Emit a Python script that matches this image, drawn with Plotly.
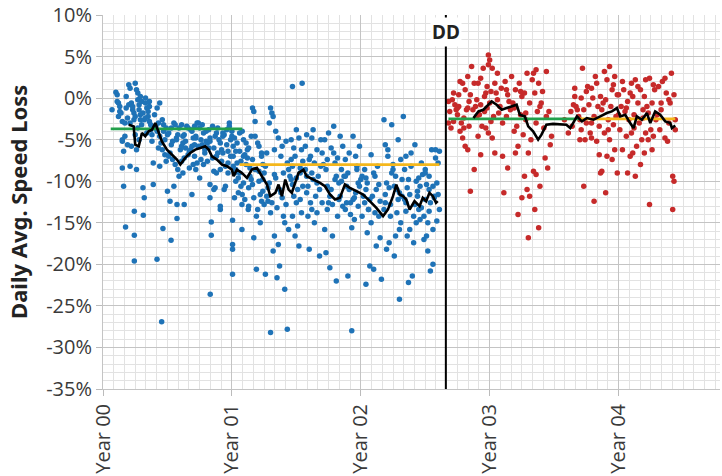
import plotly.graph_objects as go

# ---------------- data (x in years since Year 00, y in % speed loss) ----------------
blue_points = [
    # 0.05 - 0.20
    (0.07,-1.4),(0.10,0.7),(0.11,0.4),(0.11,-0.4),(0.12,-0.6),(0.13,-1.0),(0.13,-1.6),(0.14,-1.8),(0.12,-2.2),(0.15,-2.8),
    (0.15,-5.0),(0.15,-5.2),(0.16,-6.4),(0.15,-8.4),(0.16,-10.6),(0.175,-15.5),(0.17,-3.0),(0.17,-4.6),(0.18,-1.2),(0.19,-2.4),
    (0.19,-5.6),(0.20,-0.8),(0.18,0.2),(0.21,-3.0),
    # 0.20 - 0.30
    (0.20,1.6),(0.21,1.2),(0.22,-0.6),(0.23,-1.4),(0.24,-1.8),(0.24,-2.6),(0.25,-4.4),(0.22,-5.8),(0.21,-8.2),(0.26,-8.6),
    (0.243,-13.6),(0.243,-16.5),(0.243,-19.6),(0.25,1.8),(0.26,1.0),(0.27,0.6),(0.27,-0.2),(0.28,-0.8),(0.28,-1.4),(0.29,-2.0),
    (0.29,-2.6),(0.30,-3.2),(0.30,-0.4),(0.27,-3.6),(0.25,-2.2),(0.23,-1.0),(0.26,-6.2),(0.28,-5.0),(0.29,0.2),
    # 0.30 - 0.40
    (0.31,-10.8),(0.313,-14.1),(0.32,-12.0),(0.33,0.0),(0.33,-0.6),(0.34,-1.2),(0.35,-1.6),(0.35,-2.2),(0.36,-2.8),(0.37,-3.2),
    (0.37,-3.8),(0.38,-4.4),(0.38,-5.2),(0.39,-7.8),(0.39,-10.4),(0.40,-3.6),(0.32,-2.6),(0.34,-4.2),(0.36,-1.0),(0.36,-0.4),
    (0.31,-1.8),(0.33,-2.4),(0.40,-2.0),
    # 0.40 - 0.50
    (0.41,-3.4),(0.419,-19.4),(0.42,-4.0),(0.43,-3.0),(0.44,-4.6),(0.45,-5.4),(0.455,-26.9),(0.465,-15.7),(0.46,-6.2),(0.47,-3.2),
    (0.47,-4.0),(0.48,-5.0),(0.48,-6.8),(0.49,-3.6),(0.49,-7.6),(0.50,-4.4),(0.50,-11.2),(0.44,-8.2),(0.46,-2.6),(0.43,-6.0),
    (0.42,-1.2),(0.44,-0.6),
    # 0.50 - 0.60
    (0.55,-3.0),(0.59,-3.6),(0.52,-12.4),(0.528,-17.1),(0.51,-4.2),(0.57,-4.8),(0.53,-5.6),(0.60,-6.2),(0.56,-3.2),(0.51,-7.0),
    (0.58,-4.4),(0.54,-5.2),(0.574,-12.8),(0.574,-14.5),(0.52,-6.6),(0.56,-8.0),(0.53,-3.6),(0.59,-9.4),(0.57,-5.0),(0.54,-7.4),
    (0.58,-8.6),(0.55,-10.6),
    # 0.60 - 0.70
    (0.65,-3.4),(0.61,-5.8),(0.69,-4.0),(0.63,-7.2),(0.61,-3.2),(0.67,-6.4),(0.62,-4.6),(0.70,-8.0),(0.64,-5.2),(0.68,-3.8),
    (0.66,-6.8),(0.62,-9.0),(0.63,-4.4),(0.69,-5.8),(0.61,-7.6),(0.66,-3.6),(0.70,-4.8),(0.69,-11.6),(0.64,-6.0),(0.67,-8.4),
    (0.63,-12.8),(0.62,-5.4),(0.68,-6.2),
    # 0.70 - 0.80
    (0.74,-3.0),(0.71,-5.6),(0.78,-4.2),(0.73,-7.8),(0.71,-3.4),(0.79,-6.6),(0.76,-5.0),(0.72,-8.6),(0.80,-4.0),(0.75,-9.6),
    (0.77,-3.2),(0.74,-5.8),(0.71,-7.0),(0.72,-4.6),(0.79,-6.2),(0.75,-3.6),(0.78,-8.0),(0.80,-5.2),(0.73,-3.0),(0.76,-7.4),
    (0.72,-4.8),(0.77,-5.6),
    # 0.80 - 0.90
    (0.85,-3.4),(0.82,-6.0),(0.88,-4.2),(0.81,-7.6),(0.832,-23.6),(0.84,-14.9),(0.84,-16.5),(0.90,-5.0),(0.86,-8.8),(0.82,-3.8),
    (0.89,-6.6),(0.83,-10.4),(0.87,-4.6),(0.85,-7.2),(0.81,-5.4),(0.88,-9.0),(0.89,-3.6),(0.86,-6.0),(0.83,-4.8),(0.87,-10.8),
    (0.83,-12.0),(0.86,-11.0),(0.83,-5.2),(0.88,-7.0),
    # 0.90 - 1.00
    (0.91,-13.4),(0.96,-3.8),(0.93,-4.6),(0.99,-7.0),(0.91,-5.4),(0.95,-8.2),(0.98,-3.4),(0.92,-6.2),(0.97,-9.0),(0.94,-4.4),
    (0.92,-7.6),(0.99,-5.0),(0.95,-10.6),(0.97,-6.4),(0.93,-4.2),(0.91,-8.6),(0.96,-5.6),(0.94,-11.0),(0.91,-13.0),(0.98,-3.0),
    (0.93,-6.6),(0.97,-7.8),
    # 1.00 - 1.05
    (1.00,-4.0),(1.00,-4.6),(1.005,-14.7),(1.005,-17.6),(1.005,-18.2),(1.005,-21.2),(1.01,-5.8),(1.01,-7.0),(1.01,-8.2),(1.02,-9.0),
    (1.02,-4.8),(1.02,-12.0),(1.03,-6.4),(1.03,-10.0),(1.04,-7.8),(1.04,-5.4),(1.05,-9.6),(1.05,-11.4),(1.03,-8.6),
    # 1.05 - 1.15
    (1.06,-4.2),(1.12,-7.2),(1.09,-5.0),(1.14,-9.4),(1.078,-15.8),(1.078,-12.8),(1.13,-6.0),(1.07,-10.6),(1.11,-8.0),(1.15,-4.6),
    (1.08,-11.6),(1.10,-6.8),(1.06,-9.0),(1.13,-13.0),(1.11,-5.4),(1.07,-7.6),(1.127,-13.4),(1.09,-10.2),(1.14,-8.4),(1.10,-12.2),
    (1.12,-6.2),(1.08,-4.0),(1.15,-9.8),(1.09,-7.0),(1.13,-10.8),(1.06,-6.4),
    # 1.15 - 1.25
    (1.16,-1.2),(1.17,-1.6),(1.18,-2.8),(1.21,-5.8),(1.24,-8.0),(1.16,-10.4),(1.23,-6.6),(1.17,-12.0),(1.25,-9.0),(1.19,-14.2),
    (1.16,-7.4),(1.24,-11.2),(1.20,-5.4),(1.22,-15.0),(1.18,-8.6),(1.25,-12.8),(1.21,-10.0),(1.17,-16.8),(1.23,-7.0),(1.20,-13.4),
    (1.19,-20.6),(1.22,-11.6),(1.18,-4.6),(1.24,-9.8),(1.21,-8.8),(1.23,-12.4),
    # 1.25 - 1.45
    (1.26,-21.2),(1.30,-28.2),(1.34,-9.6),(1.28,-12.4),(1.30,-1.2),(1.38,-7.0),(1.31,-1.8),(1.27,-11.8),(1.32,-2.2),(1.40,-14.2),
    (1.29,-3.0),(1.44,-8.6),(1.36,-4.8),(1.33,-16.6),(1.42,-5.2),(1.29,-10.2),(1.39,-5.8),(1.35,-13.2),(1.27,-6.6),(1.37,-20.2),
    (1.43,-7.8),(1.31,-12.6),(1.45,-9.4),(1.36,-17.6),(1.28,-10.8),(1.41,-15.0),(1.33,-6.2),(1.41,-23.0),(1.26,-8.2),(1.32,-18.4),
    (1.38,-11.4),(1.43,-27.8),(1.35,-21.6),(1.40,-9.0),(1.30,-13.8),(1.44,-15.8),(1.34,-4.0),(1.39,-12.0),(1.33,-9.2),(1.37,-11.0),
    (1.42,-12.8),
    # 1.45 - 1.56
    (1.47,1.4),(1.545,1.8),(1.52,-4.8),(1.46,-5.0),(1.54,-6.2),(1.49,-7.0),(1.47,-8.2),(1.53,-9.0),(1.46,-9.8),(1.55,-10.6),
    (1.48,-11.8),(1.50,-12.6),(1.54,-13.8),(1.47,-14.2),(1.51,-15.4),(1.49,-16.6),(1.52,-17.8),(1.50,-3.8),(1.55,-7.6),(1.51,-11.0),
    (1.48,-6.0),(1.53,-12.2),(1.46,-7.4),(1.50,-9.6),(1.47,-10.4),(1.53,-8.4),
    # 1.56 - 1.71
    (1.63,-3.8),(1.58,-9.4),(1.69,-5.0),(1.61,-12.6),(1.57,-5.8),(1.66,-10.2),(1.70,-6.6),(1.59,-14.2),(1.64,-7.8),(1.68,-11.0),
    (1.57,-8.6),(1.62,-13.4),(1.67,-9.4),(1.60,-18.2),(1.58,-4.4),(1.65,-11.8),(1.61,-7.0),(1.68,-19.0),(1.63,-9.8),(1.70,-12.6),
    (1.66,-6.2),(1.59,-10.6),(1.62,-4.8),(1.69,-8.2),(1.64,-15.0),(1.60,-7.4),(1.58,-11.4),(1.62,-9.0),(1.66,-13.8),
    # 1.71 - 1.87
    (1.79,-3.4),(1.73,-8.6),(1.84,-4.6),(1.76,-11.8),(1.72,-5.0),(1.81,-9.4),(1.86,-5.8),(1.74,-13.4),(1.80,-7.8),(1.83,-10.2),
    (1.72,-15.8),(1.77,-11.0),(1.85,-8.6),(1.75,-12.6),(1.82,-14.2),(1.78,-16.6),(1.87,-9.4),(1.73,-18.6),(1.79,-6.6),(1.76,-20.4),
    (1.84,-11.8),(1.81,-22.0),(1.74,-7.4),(1.86,-13.0),(1.77,-6.0),(1.83,-12.2),(1.80,-9.8),(1.75,-4.2),(1.71,-8.0),(1.74,-10.6),
    (1.78,-12.8),(1.82,-7.2),(1.85,-10.0),
    # 1.87 - 2.02
    (1.94,-4.6),(1.89,-10.6),(1.99,-5.8),(1.92,-12.6),(1.88,-7.4),(1.97,-8.2),(2.01,-14.2),(1.90,-9.0),(1.93,-28.0),(1.96,-11.4),
    (2.00,-9.8),(1.88,-13.4),(1.91,-6.6),(1.98,-10.2),(1.95,-14.6),(2.02,-11.8),(1.90,-21.4),(1.94,-12.2),(1.97,-8.6),(1.89,-12.6),
    (1.99,-10.6),(1.92,-14.0),(1.96,-7.0),(2.01,-9.4),(1.93,-15.6),(1.88,-9.4),(1.91,-11.0),(1.95,-12.0),(1.98,-13.0),
    # 2.02 - 2.17
    (2.08,-6.8),(2.04,-11.0),(2.13,-8.2),(2.06,-13.4),(2.03,-8.6),(2.11,-9.4),(2.15,-16.8),(2.05,-10.2),(2.12,-17.8),(2.09,-11.8),
    (2.03,-12.6),(2.07,-20.2),(2.14,-14.2),(2.10,-20.6),(2.06,-13.4),(2.16,-21.8),(2.04,-22.4),(2.12,-11.0),(2.08,-15.0),(2.15,-12.4),
    (2.10,-9.0),(2.05,-16.2),(2.04,-9.6),(2.07,-12.2),(2.11,-13.8),(2.14,-10.4),
    # 2.17 - 2.33
    (2.18,-2.6),(2.24,-3.2),(2.29,-5.0),(2.19,-5.6),(2.27,-9.4),(2.21,-7.0),(2.31,-7.4),(2.18,-13.4),(2.25,-8.6),(2.30,-15.8),
    (2.20,-10.2),(2.28,-11.0),(2.22,-17.4),(2.32,-11.8),(2.19,-12.6),(2.26,-19.0),(2.23,-14.2),(2.31,-15.0),(2.21,-6.2),(2.27,-16.6),
    (2.30,-24.2),(2.24,-9.0),(2.20,-18.2),(2.29,-12.2),(2.25,-8.0),(2.22,-10.8),(2.28,-13.8),(2.32,-9.8),(2.19,-11.6),(2.23,-12.8),
    (2.26,-10.6),(2.30,-11.4),
    # 2.33 - 2.48
    (2.33,-2.2),(2.39,-6.6),(2.44,-11.8),(2.35,-7.0),(2.41,-14.2),(2.47,-7.8),(2.34,-8.6),(2.43,-15.0),(2.37,-9.8),(2.46,-10.6),
    (2.40,-21.4),(2.35,-12.6),(2.45,-13.4),(2.38,-15.8),(2.42,-5.6),(2.36,-16.6),(2.48,-9.2),(2.41,-17.4),(2.37,-22.2),(2.44,-11.2),
    (2.34,-12.2),(2.39,-8.2),(2.46,-14.6),(2.43,-10.0),(2.36,-10.8),(2.35,-13.6),(2.38,-11.6),(2.42,-12.8),(2.45,-9.6),(2.47,-13.2),
    # 2.48 - 2.61
    (2.55,-6.2),(2.49,-14.2),(2.58,-7.2),(2.52,-15.0),(2.60,-7.8),(2.50,-8.6),(2.56,-15.8),(2.53,-9.4),(2.59,-10.2),(2.51,-16.6),
    (2.57,-11.8),(2.54,-12.6),(2.49,-17.0),(2.61,-13.4),(2.52,-18.4),(2.56,-20.0),(2.58,-6.2),(2.54,-20.8),(2.50,-9.0),(2.61,-6.4),
    (2.57,-12.0),(2.53,-11.0),(2.59,-14.8),(2.51,-10.4),(2.50,-12.2),(2.53,-13.6),(2.56,-10.6),(2.60,-11.6),
]

red_points = [
    (2.71,-0.2),(2.68,-0.4),(2.74,-1.4),(2.69,-1.6),(2.72,-2.8),(2.68,-3.0),(2.70,-3.6),(2.73,-0.8),(2.75,-2.0),
    (2.79,1.8),(2.77,2.0),(2.81,1.0),(2.76,-1.0),(2.82,-1.4),(2.78,-3.0),(2.80,-3.6),(2.77,-4.0),(2.79,-4.8),(2.81,-5.8),(2.76,0.4),
    (2.86,3.8),(2.83,2.6),(2.88,1.8),(2.85,0.4),(2.89,-1.0),(2.83,-1.2),(2.87,-1.4),(2.84,-3.4),(2.88,-8.6),(2.85,-11.2),(2.90,-2.2),
    (2.95,3.6),(2.91,1.8),(2.97,0.6),(2.93,-0.8),(2.96,-1.6),(2.92,-2.0),(2.94,-3.4),(2.97,-3.6),(2.91,-4.6),(2.93,2.4),
    (2.99,5.2),(3.00,4.6),(2.99,4.0),(3.02,3.6),(3.04,1.8),(2.98,1.4),(3.01,0.8),(3.05,0.6),(3.00,-0.6),(3.03,-2.2),
    (2.99,-4.2),(3.02,-4.8),(3.04,-6.6),
    (3.12,2.0),(3.09,1.2),(3.15,-0.4),(3.08,-1.0),(3.13,-2.2),(3.10,-7.0),(3.14,-8.4),(3.11,-11.4),(3.07,-1.8),(3.14,0.4),
    (3.23,1.8),(3.20,1.0),(3.25,0.2),(3.19,-1.2),(3.24,-2.0),(3.21,-3.4),(3.26,-4.4),(3.22,-5.8),(3.20,-6.6),(3.25,-12.0),
    (3.22,-14.0),(3.18,-0.6),
    (3.29,3.0),(3.27,0.6),(3.31,-0.6),(3.28,-2.6),(3.32,-5.0),(3.30,-6.6),(3.27,-9.4),(3.29,-11.0),(3.31,-11.8),(3.30,-16.8),
    (3.36,3.4),(3.34,3.0),(3.38,1.8),(3.35,0.6),(3.39,-1.0),(3.37,-1.6),(3.34,-8.8),(3.36,-9.2),(3.39,-10.6),(3.35,-13.4),(3.38,-15.6),
    (3.44,3.2),(3.41,0.8),(3.46,-1.6),(3.42,-3.6),(3.47,-5.6),(3.43,-7.2),(3.45,-8.4),
    (2.72,0.6),(2.75,-1.2),(2.80,-2.4),(2.84,-0.4),(2.90,-0.2),(2.96,0.2),(2.98,-1.2),(3.01,-2.8),(3.06,-0.2),(3.10,-3.0),
    (3.13,1.0),(3.16,-1.4),(3.19,-4.0),(3.24,0.8),(3.28,-1.8),(3.33,2.2),(3.36,-3.0),(3.40,-0.6),(3.44,-2.2),(3.48,-4.6),
    (3.17,2.6),(3.06,3.0),(2.83,-6.2),(2.93,-6.8),
    (3.67,-1.0),(3.63,-1.6),(3.69,-2.2),(3.64,-3.4),(3.70,-5.0),(3.66,1.2),(3.65,-0.8),(3.68,-1.4),
    (3.72,3.6),(3.76,1.4),(3.71,0.0),(3.77,-0.8),(3.73,-1.4),(3.75,-3.0),(3.71,-3.8),(3.78,-4.2),(3.74,-5.0),(3.73,-10.6),
    (3.82,2.6),(3.79,1.2),(3.86,0.2),(3.80,0.0),(3.84,-1.0),(3.87,-1.4),(3.81,-2.2),(3.85,-3.4),(3.79,-4.8),(3.83,-5.2),
    (3.86,-9.0),(3.87,-8.8),(3.81,-12.4),
    (3.93,3.8),(3.89,3.2),(3.97,2.6),(3.91,2.2),(3.95,1.0),(3.99,0.4),(3.90,-0.2),(3.94,-1.0),(3.98,-2.2),(3.92,-2.6),
    (3.96,-3.2),(3.89,-4.2),(3.93,-5.0),(3.97,-6.2),(3.91,-7.0),(3.95,-7.4),(3.99,-9.0),(3.90,-11.4),
    (4.04,1.0),(4.00,0.4),(4.07,-0.4),(4.02,-1.0),(4.05,-1.6),(4.08,-2.6),(4.01,-3.8),(4.06,-4.6),(4.03,-6.2),(4.09,-7.0),
    (4.13,2.2),(4.10,1.8),(4.17,1.0),(4.11,0.2),(4.15,-0.6),(4.19,-1.4),(4.12,-2.0),(4.16,-3.0),(4.10,-4.2),(4.18,-5.0),
    (4.14,-5.8),(4.11,-6.6),(4.17,-8.0),(4.13,-9.4),
    (4.24,2.4),(4.21,2.2),(4.28,1.0),(4.20,0.2),(4.26,-0.6),(4.22,-1.0),(4.29,-2.6),(4.25,-3.8),(4.21,-4.2),(4.27,-4.6),
    (4.23,-5.0),(4.26,-6.2),(4.20,-6.6),(4.24,-12.8),
    (4.34,2.0),(4.31,1.4),(4.37,0.6),(4.33,-0.6),(4.39,-3.0),(4.32,-3.8),(4.36,-4.8),(4.38,-5.2),
    (4.41,3.0),(4.43,0.4),(4.40,-0.6),(4.44,-3.8),(4.42,-9.4),(4.43,-10.0),(4.42,-13.4),
    (3.66,0.2),(3.70,-2.6),(3.75,0.8),(3.79,-3.0),(3.83,1.8),(3.88,-0.6),(3.92,-3.8),(3.96,1.6),(4.00,-2.0),(4.03,2.0),
    (4.06,-1.2),(4.09,0.6),(4.12,-3.6),(4.15,1.4),(4.19,-2.4),(4.23,-1.8),(4.27,1.6),(4.30,-2.0),(4.33,-1.4),(4.36,2.4),
    (4.39,-0.2),(4.44,-2.6),(3.85,-6.8),(4.07,-9.0),(3.61,-4.2),(3.58,-2.6),
]

rolling_before_x = [0.20,0.238,0.25,0.277,0.302,0.328,0.354,0.38,0.406,0.432,0.457,0.496,0.535,0.574,0.60,0.638,0.677,
                    0.716,0.755,0.793,0.82,0.845,0.884,0.923,0.962,1.0,1.013,1.039,1.078,1.117,1.155,1.194,1.233,1.272,
                    1.298,1.337,1.362,1.388,1.414,1.44,1.465,1.491,1.517,1.555,1.581,1.632,1.684,1.722,1.761,1.80,1.838,
                    1.877,1.915,1.967,2.018,2.07,2.121,2.173,2.211,2.25,2.276,2.301,2.327,2.353,2.379,2.417,2.456,2.481,
                    2.507,2.533,2.559,2.584,2.597]
rolling_before_y = [-3.2,-3.4,-5.6,-5.8,-4.2,-4.6,-4.0,-3.8,-3.0,-4.2,-5.2,-6.2,-6.8,-7.4,-8.0,-7.2,-6.6,
                    -6.2,-6.0,-5.8,-6.2,-7.0,-7.4,-8.0,-8.2,-8.6,-9.4,-8.6,-9.0,-9.6,-8.6,-8.4,-9.4,-10.4,
                    -11.8,-11.4,-10.4,-11.8,-9.8,-11.0,-11.4,-10.2,-9.0,-8.6,-9.4,-9.8,-10.2,-10.6,-11.6,-12.2,-12.0,
                    -10.4,-10.8,-11.2,-11.6,-12.4,-13.2,-14.2,-13.4,-11.8,-10.4,-11.6,-11.8,-12.2,-13.4,-12.4,-13.0,-12.0,
                    -12.4,-11.4,-11.8,-12.6,-12.4]

rolling_after_x = [2.874,2.913,2.951,2.977,3.016,3.054,3.093,3.132,3.17,3.209,3.234,3.273,3.299,3.337,3.376,3.402,3.44,
                   3.492,3.595,3.625,3.677,3.716,3.754,3.806,3.858,3.909,3.948,3.987,4.013,4.052,4.09,4.116,4.142,4.181,
                   4.22,4.246,4.284,4.323,4.362,4.401,4.414,4.44]
rolling_after_y = [-2.4,-1.6,-1.4,-1.0,-0.4,-0.8,-1.4,-1.2,-1.0,-0.8,-2.0,-2.2,-3.4,-4.0,-5.0,-4.4,-3.2,
                   -3.1,-3.2,-3.6,-2.2,-2.8,-2.4,-2.6,-2.2,-1.8,-1.6,-1.2,-2.2,-2.0,-3.0,-3.6,-2.2,-2.6,
                   -1.8,-3.0,-1.6,-2.0,-2.8,-3.0,-3.6,-3.3]

period_start = [0.06, 1.06, 2.68, 3.69]
period_end = [1.08, 2.61, 3.69, 4.44]
period_mean = [-3.7, -8.0, -2.5, -2.5]
period_color = ["#22a04b", "#f5b71c", "#22a04b", "#f5b71c"]

dd_x = 2.66
dd_label = "DD"

year_ticks = [0, 1, 2, 3, 4]
year_labels = ["Year 00", "Year 01", "Year 02", "Year 03", "Year 04"]
y_ticks = [10, 5, 0, -5, -10, -15, -20, -25, -30, -35]
y_labels = ["10%", "5%", "0%", "-5%", "-10%", "-15%", "-20%", "-25%", "-30%", "-35%"]

# ---------------- figure ----------------
FONT = "Open Sans, Noto Sans, sans-serif"
BOLD = "Noto Sans, Open Sans, sans-serif"
fig = go.Figure()

bx, by = zip(*blue_points)
rx, ry = zip(*red_points)

fig.add_trace(go.Scatter(x=bx, y=by, mode="markers",
                         marker=dict(color="#1f73b7", size=5.5), hoverinfo="skip"))
fig.add_trace(go.Scatter(x=rx, y=ry, mode="markers",
                         marker=dict(color="#c62a2a", size=5.5), hoverinfo="skip"))

for s, e, m, c in zip(period_start, period_end, period_mean, period_color):
    fig.add_trace(go.Scatter(x=[s, e], y=[m, m], mode="lines",
                             line=dict(color=c, width=2.6), hoverinfo="skip"))

fig.add_trace(go.Scatter(x=rolling_before_x, y=rolling_before_y, mode="lines",
                         line=dict(color="black", width=2.6), hoverinfo="skip"))
fig.add_trace(go.Scatter(x=rolling_after_x, y=rolling_after_y, mode="lines",
                         line=dict(color="black", width=2.6), hoverinfo="skip"))

fig.add_shape(type="line", xref="x", yref="paper", x0=dd_x, x1=dd_x, y0=0, y1=1,
              line=dict(color="black", width=2))
fig.add_annotation(x=dd_x, y=7.9, xref="x", yref="y", text="<b>" + dd_label + "</b>",
                   showarrow=False, bgcolor="white", borderpad=1,
                   font=dict(family=BOLD, size=19, color="#222"))

fig.add_annotation(x=-0.1378, y=0.5, xref="paper", yref="paper", text="<b>Daily Avg. Speed Loss</b>",
                   textangle=-90, showarrow=False, xanchor="center", yanchor="middle",
                   font=dict(family=BOLD, size=22, color="#222"))

fig.update_layout(
    width=722, height=476,
    margin=dict(l=103, r=2, t=15, b=87),
    paper_bgcolor="white", plot_bgcolor="white",
    showlegend=False,
    font=dict(family=FONT, size=20, color="#3a3a3a"),
)
fig.update_xaxes(
    range=[0, 4.787], tickmode="array", tickvals=year_ticks, ticktext=year_labels,
    tickangle=-90, ticks="outside", ticklen=6, tickcolor="#bbbbbb",
    showgrid=True, gridcolor="#c4c4c4", gridwidth=1, zeroline=False,
    showline=True, linecolor="#c4c4c4",
    minor=dict(tickmode="linear", tick0=0, dtick=1/12, showgrid=True, gridcolor="#e2e2e2", gridwidth=1),
    tickfont=dict(size=20),
)
fig.update_yaxes(
    range=[-35, 10], tickmode="array", tickvals=y_ticks, ticktext=y_labels,
    ticks="outside", ticklen=6, tickcolor="#bbbbbb",
    showgrid=True, gridcolor="#c4c4c4", gridwidth=1, zeroline=False,
    showline=True, linecolor="#c4c4c4",
    minor=dict(tickmode="linear", tick0=0, dtick=1, showgrid=True, gridcolor="#e2e2e2", gridwidth=1),
    tickfont=dict(size=20),
)

fig.write_html("out.html", config={"displayModeBar": False},
               post_script="document.body.style.margin='0';document.body.style.overflow='hidden';")
